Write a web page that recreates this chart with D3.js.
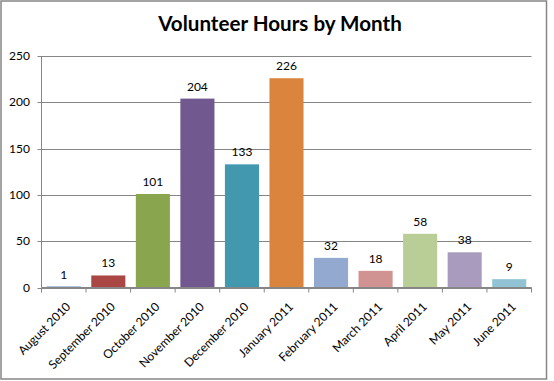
<!DOCTYPE html>
<html><head><meta charset="utf-8">
<script src="https://cdn.jsdelivr.net/npm/d3@7"></script>
<style>body{margin:0;background:#fff}svg{display:block}text{font-family:Lato,"Open Sans",sans-serif}</style>
</head><body><svg id="c" width="554" height="381"></svg>
<script>
const categories = ["August 2010","September 2010","October 2010","November 2010","December 2010","January 2011","February 2011","March 2011","April 2011","May 2011","June 2011"];
const hours = [1,13,101,204,133,226,32,18,58,38,9];
const barColors = ["#4572A7","#AA4643","#89A54E","#71588F","#4198AF","#DB843D","#93A9CF","#D19392","#B9CD96","#A99BBD","#92C3D4"];
const yTicks = [0,50,100,150,200,250];
const title = "Volunteer Hours by Month";

const svg = d3.select("#c");
svg.append("rect").attr("x",1).attr("y",1).attr("width",545.5).attr("height",378).attr("fill","#fff").attr("stroke","#868686").attr("stroke-width",1.5);

const L=41.5, R=531.5, T=56, B=287.5;
const x = d3.scaleBand().domain(categories).range([L,R]).paddingInner(0.235).paddingOuter(0.1175);
const y = d3.scaleLinear().domain([0,250]).range([B,T]);

svg.append("text").attr("x",280).attr("y",31).attr("text-anchor","middle")
  .attr("font-size",20.6).attr("font-weight","bold").attr("fill","#000").text(title);

// gridlines
svg.append("g").selectAll("line").data(yTicks).join("line")
  .attr("x1",L-4).attr("x2",R).attr("y1",d=>Math.round(y(d))+0.5).attr("y2",d=>Math.round(y(d))+0.5)
  .attr("stroke","#868686").attr("stroke-width",1);
// y axis line
svg.append("line").attr("x1",L).attr("x2",L).attr("y1",T).attr("y2",B).attr("stroke","#868686");
// y labels
svg.append("g").selectAll("text").data(yTicks).join("text")
  .attr("x",30).attr("y",d=>y(d)+4).attr("text-anchor","end").attr("font-size",12).attr("fill","#000").text(d=>d);

// bars
svg.append("g").selectAll("rect").data(hours).join("rect")
  .attr("x",(d,i)=>x(categories[i])).attr("width",x.bandwidth())
  .attr("y",d=>y(d)).attr("height",d=>B-y(d)).attr("fill",(d,i)=>barColors[i]);

// x axis line and ticks
svg.append("line").attr("x1",L).attr("x2",R).attr("y1",B).attr("y2",B).attr("stroke","#868686");
const tickPos = d3.range(categories.length+1).map(i=>L+i*(R-L)/categories.length);
svg.append("g").selectAll("line").data(tickPos).join("line")
  .attr("x1",d=>d).attr("x2",d=>d).attr("y1",B).attr("y2",B+5).attr("stroke","#868686");

// value labels
svg.append("g").selectAll("text").data(hours).join("text")
  .attr("x",(d,i)=>x(categories[i])+x.bandwidth()/2).attr("y",d=>y(d)-8)
  .attr("text-anchor","middle").attr("font-size",12).attr("fill","#000").text(d=>d);

// x labels
svg.append("g").selectAll("text").data(categories).join("text")
  .attr("transform",d=>`translate(${x(d)+x.bandwidth()/2+7.5},${B+20}) rotate(-45)`)
  .attr("text-anchor","end").attr("font-size",12).attr("fill","#000").text(d=>d);
</script></body></html>
